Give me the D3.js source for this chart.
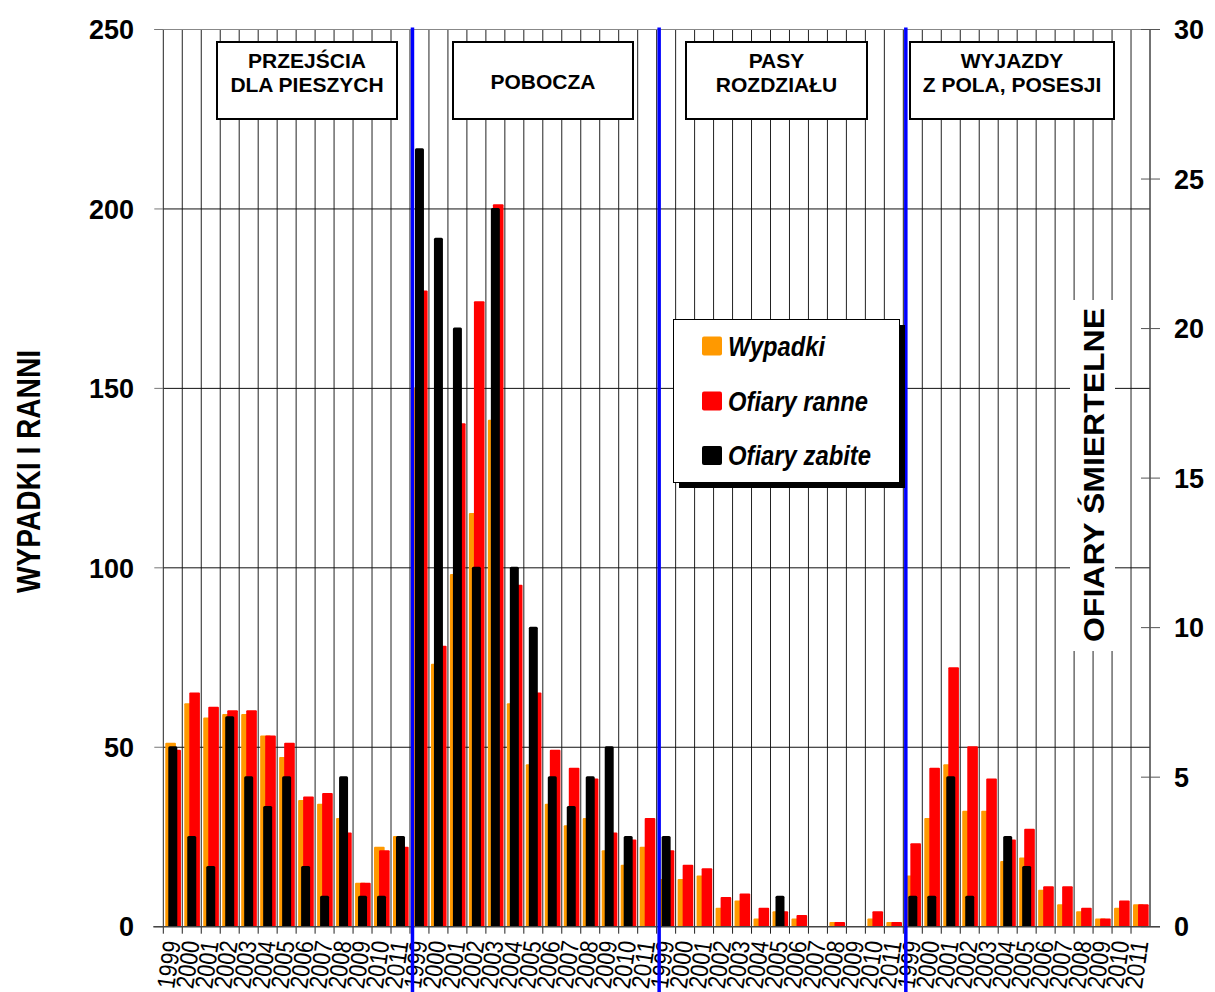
<!DOCTYPE html>
<html><head><meta charset="utf-8">
<script src="https://cdn.jsdelivr.net/npm/d3@7"></script>
<style>
body{margin:0;background:#fff}
svg{display:block}
text{font-family:Arial,"Liberation Sans",sans-serif}
</style>
</head><body>
<svg id="c" width="1215" height="992"></svg>
<script>
// ---- data ----
const years = ["1999","2000","2001","2002","2003","2004","2005","2006","2007","2008","2009","2010","2011"];
const groupLabels = [["PRZEJŚCIA","DLA PIESZYCH"],["POBOCZA"],["PASY","ROZDZIAŁU"],["WYJAZDY","Z POLA, POSESJI"]];
const wypadki = [
  51,62,58,59,59,53,47,35,34,30,12,22,25,
  150,73,98,115,141,62,45,34,28,30,21,17,22,
  13,13,14,5,7,2,4,2,0,1,0,2,1,
  14,30,45,32,32,18,19,10,6,4,2,5,6];
const ranne = [
  49,65,61,60,60,53,51,36,37,26,12,21,22,
  177,78,140,174,201,95,65,49,44,41,26,24,30,
  21,17,16,8,9,5,4,3,0,1,0,4,1,
  23,44,72,50,41,24,27,11,11,5,2,7,6];
const zabite = [
  6,3,2,7,5,4,5,2,1,5,1,1,3,
  26,23,20,12,24,12,10,5,4,5,6,3,0,
  3,0,0,0,0,0,1,0,0,0,0,0,0,
  1,1,5,1,0,3,2,0,0,0,0,0,0];
const leftTicks = [0,50,100,150,200,250];
const rightTicks = [0,5,10,15,20,25,30];
const seriesNames = ["Wypadki","Ofiary ranne","Ofiary zabite"];
const seriesColors = ["#FF9900","#FF0000","#000000"];

// ---- layout ----
const svg = d3.select("#c");
const L = 163.3, R = 1150, T = 29.5, B = 926.7;
const nCat = years.length * groupLabels.length;
const x = d3.scaleBand().domain(d3.range(nCat)).range([L, R]).padding(0);
const bw = x.bandwidth();
const yL = d3.scaleLinear().domain([0, 250]).range([B, T]);
const yR = d3.scaleLinear().domain([0, 30]).range([B, T]);

// vertical gridlines
svg.append("g").selectAll("line").data(d3.range(nCat)).join("line")
  .attr("x1", d => x(d)).attr("x2", d => x(d))
  .attr("y1", T).attr("y2", B + 7)
  .attr("stroke", "#222").attr("stroke-width", 1);

// horizontal gridlines
svg.append("g").selectAll("line").data(leftTicks.filter(d => d > 0)).join("line")
  .attr("x1", d => d === 250 ? L - 9 : L).attr("x2", d => d === 250 ? R + 10 : R)
  .attr("y1", d => yL(d)).attr("y2", d => yL(d))
  .attr("stroke", d => d === 250 ? "#888" : "#111").attr("stroke-width", 1);

// bars
const idx = d3.range(nCat);
svg.append("g").selectAll("rect").data(idx).join("rect")
  .attr("x", d => x(d) + bw * 0.105).attr("width", bw * 0.56)
  .attr("y", d => yL(wypadki[d]) - 1).attr("height", d => wypadki[d] > 0 ? B - yL(wypadki[d]) + 1 : 0)
  .attr("rx", 1).attr("fill", seriesColors[0]);
svg.append("g").selectAll("rect").data(idx).join("rect")
  .attr("x", d => x(d) + bw * 0.37).attr("width", bw * 0.56)
  .attr("y", d => yL(ranne[d]) - 1).attr("height", d => ranne[d] > 0 ? B - yL(ranne[d]) + 1 : 0)
  .attr("rx", 1).attr("fill", seriesColors[1]);
svg.append("g").selectAll("rect").data(idx.filter(d => zabite[d] > 0)).join("rect")
  .attr("x", d => x(d) + bw * 0.263).attr("width", bw * 0.474)
  .attr("y", d => yR(zabite[d]) - 1).attr("height", d => B - yR(zabite[d]) + 1)
  .attr("rx", 1.5).attr("fill", seriesColors[2]);

// left axis ticks + labels
const gl = svg.append("g");
gl.selectAll("line").data(leftTicks).join("line")
  .attr("x1", L - 9).attr("x2", L).attr("y1", d => yL(d)).attr("y2", d => yL(d))
  .attr("stroke", "#777");
gl.selectAll("text").data(leftTicks).join("text")
  .attr("x", 134).attr("y", d => yL(d)).attr("dy", "0.36em")
  .attr("text-anchor", "end").attr("font-size", 27).attr("font-weight", "bold")
  .text(d => d);

// right axis
const gr = svg.append("g");
gr.append("line").attr("x1", R).attr("x2", R).attr("y1", T).attr("y2", B)
  .attr("stroke", "#444").attr("stroke-width", 1.5);
gr.selectAll("line.t").data(rightTicks).join("line").attr("class", "t")
  .attr("x1", R - 9).attr("x2", R + 10).attr("y1", d => yR(d)).attr("y2", d => yR(d))
  .attr("stroke", "#555");
gr.selectAll("text").data(rightTicks).join("text")
  .attr("x", 1174).attr("y", d => yR(d)).attr("dy", "0.36em")
  .attr("text-anchor", "start").attr("font-size", 27).attr("font-weight", "bold")
  .text(d => d);

// baseline
svg.append("line").attr("x1", L - 10).attr("x2", R + 10).attr("y1", B).attr("y2", B)
  .attr("stroke", "#444").attr("stroke-width", 1.5);

// x labels
svg.append("g").selectAll("text").data(idx).join("text")
  .attr("transform", d => `translate(${x(d) + bw / 2 + 8},942) rotate(-82)`)
  .attr("text-anchor", "end").attr("font-size", 25)
  .attr("textLength", 48).attr("lengthAdjust", "spacingAndGlyphs")
  .text(d => years[d % years.length]);

// blue separators
svg.append("g").selectAll("line").data([1, 2, 3]).join("line")
  .attr("x1", g => x(g * years.length) + 2.5).attr("x2", g => x(g * years.length) + 2.5)
  .attr("y1", 27.5).attr("y2", 992)
  .attr("stroke", "#0000FF").attr("stroke-width", 3.5);

// group label boxes
const boxes = [[217, 397], [453, 633], [686, 867], [910, 1114]];
const gb = svg.append("g");
groupLabels.forEach((lines, i) => {
  const [x0, x1] = boxes[i];
  gb.append("rect").attr("x", x0).attr("y", 42).attr("width", x1 - x0).attr("height", 77)
    .attr("fill", "#fff").attr("stroke", "#000").attr("stroke-width", 2);
  const t = gb.append("text").attr("text-anchor", "middle").attr("font-size", 21)
    .attr("font-weight", "bold");
  if (lines.length === 1) {
    t.append("tspan").attr("x", (x0 + x1) / 2).attr("y", 89).text(lines[0]);
  } else {
    lines.forEach((s, j) => t.append("tspan").attr("x", (x0 + x1) / 2).attr("y", 68 + j * 24).text(s));
  }
});

// legend
const lg = svg.append("g");
lg.append("rect").attr("x", 679).attr("y", 325).attr("width", 226).attr("height", 163).attr("fill", "#000");
lg.append("rect").attr("x", 673.5).attr("y", 319.5).attr("width", 226).attr("height", 163)
  .attr("fill", "#fff").attr("stroke", "#000").attr("stroke-width", 1);
const legY = [346, 401, 455.5];
const legW = [97, 140, 143];
seriesNames.forEach((n, i) => {
  lg.append("rect").attr("x", 702).attr("y", legY[i] - 9.5).attr("width", 20).attr("height", 19)
    .attr("rx", 2).attr("fill", seriesColors[i]);
  lg.append("text").attr("x", 728).attr("y", legY[i] + 9.5)
    .attr("font-size", 27).attr("font-weight", "bold").attr("font-style", "italic")
    .attr("textLength", legW[i]).attr("lengthAdjust", "spacingAndGlyphs")
    .text(n);
});

// axis titles
svg.append("text").attr("transform", "translate(40,471.5) rotate(-90)")
  .attr("text-anchor", "middle").attr("font-size", 33).attr("font-weight", "bold")
  .attr("textLength", 243).attr("lengthAdjust", "spacingAndGlyphs")
  .text("WYPADKI I RANNI");
svg.append("rect").attr("x", 1070).attr("y", 300).attr("width", 45).attr("height", 351).attr("fill", "#fff");
svg.append("text").attr("transform", "translate(1104,475) rotate(-90)")
  .attr("text-anchor", "middle").attr("font-size", 30).attr("font-weight", "bold")
  .attr("textLength", 334).attr("lengthAdjust", "spacingAndGlyphs")
  .text("OFIARY ŚMIERTELNE");
</script>
</body></html>
